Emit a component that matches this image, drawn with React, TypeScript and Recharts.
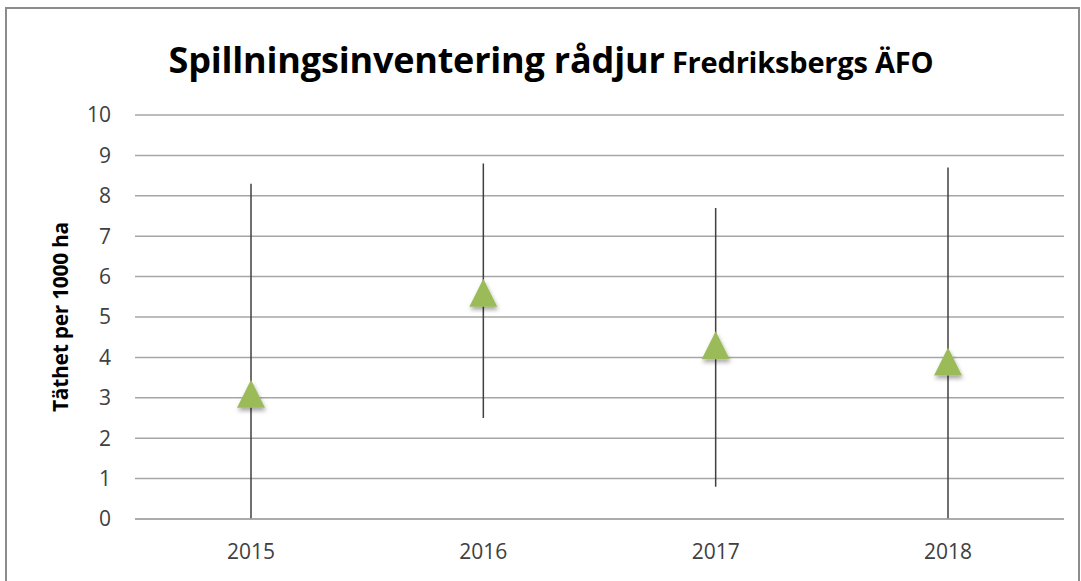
import React from "react";
import { ComposedChart, Line, ErrorBar, XAxis, YAxis, CartesianGrid } from "recharts";

const YEARS = ["2015", "2016", "2017", "2018"];
const DENSITY = [3.1, 5.6, 4.3, 3.9];
const LOW = [0, 2.5, 0.8, 0];
const HIGH = [8.3, 8.8, 7.7, 8.7];
const Y_TICKS = [0, 1, 2, 3, 4, 5, 6, 7, 8, 9, 10];

const data = YEARS.map((y, i) => ({
  year: y,
  value: DENSITY[i],
  err: [DENSITY[i] - LOW[i], HIGH[i] - DENSITY[i]],
}));

const FONT = "'Open Sans', 'Liberation Sans', sans-serif";

function Triangle(props: any) {
  const { cx, cy } = props;
  if (cx == null || cy == null) return null;
  const h = 28;
  const w = 28;
  return (
    <polygon
      points={`${cx},${cy - h / 2} ${cx + w / 2},${cy + h / 2} ${cx - w / 2},${cy + h / 2}`}
      fill="#9BBB59"
      filter="url(#shadow)"
    />
  );
}

export default function App() {
  return (
    <div style={{ position: "absolute", left: 0, top: 0, width: 1081, height: 581, overflow: "hidden", background: "#fff", fontFamily: FONT }}>
      <div style={{ position: "absolute", left: 5, top: 7, width: 1071, height: 620, border: "2px solid #8c8c8c" }} />
      <div
        style={{
          position: "absolute",
          left: 0,
          width: 1102,
          top: 36,
          textAlign: "center",
          fontWeight: 700,
          color: "#000",
          whiteSpace: "nowrap",
          lineHeight: "48px",
        }}
      >
        <span style={{ fontSize: 36, letterSpacing: -0.2 }}>Spillningsinventering rådjur</span>
        <span style={{ fontSize: 29, letterSpacing: -0.2 }}> Fredriksbergs ÄFO</span>
      </div>
      <div
        style={{
          position: "absolute",
          left: 60,
          top: 317,
          transform: "translate(-50%, -50%) rotate(-90deg)",
          fontSize: 21,
          fontWeight: 700,
          whiteSpace: "nowrap",
          color: "#000",
          letterSpacing: -0.3,
        }}
      >
        Täthet per 1000 ha
      </div>
      <div style={{ position: "absolute", left: 0, top: 0 }}>
        <ComposedChart width={1081} height={581} data={data} margin={{ top: 115, right: 17, bottom: 22, left: 0 }}>
          <defs>
            <filter id="shadow" x="-50%" y="-50%" width="200%" height="200%">
              <feDropShadow dx="1" dy="3" stdDeviation="2" floodColor="#000" floodOpacity="0.35" />
            </filter>
          </defs>
          <CartesianGrid vertical={false} stroke="#a6a6a6" strokeWidth={1.5} />
          <XAxis
            dataKey="year"
            height={40}
            padding={{ left: 116, right: 116 }}
            axisLine={{ stroke: "#a6a6a6", strokeWidth: 1.5 }}
            tickLine={false}
            tickSize={0}
            tickMargin={25}
            tick={{ fontSize: 21, fill: "#404040", fontFamily: FONT }}
          />
          <YAxis
            width={135}
            domain={[0, 10]}
            ticks={Y_TICKS}
            interval={0}
            axisLine={false}
            tickLine={false}
            tickSize={0}
            tickMargin={24}
            tick={{ fontSize: 21, fill: "#404040", fontFamily: FONT }}
          />
          <Line
            dataKey="value"
            stroke="none"
            isAnimationActive={false}
            dot={<Triangle />}
            activeDot={false}
          >
            <ErrorBar dataKey="err" width={0} stroke="#404040" strokeWidth={1.5} direction="y" />
          </Line>
        </ComposedChart>
      </div>
    </div>
  );
}
